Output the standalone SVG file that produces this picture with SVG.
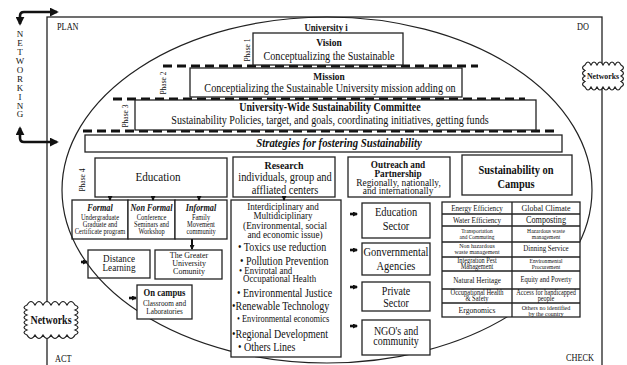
<svg xmlns="http://www.w3.org/2000/svg" width="627" height="365" viewBox="0 0 627 365">
<defs>
<style>
text{font-family:"Liberation Serif","Times New Roman",serif;fill:#111}
.c{text-anchor:middle;transform-box:fill-box;transform-origin:center;transform:scaleX(.87)}
.l{text-anchor:start;transform-box:fill-box;transform-origin:0% 50%;transform:scaleX(.87)}
.b{font-weight:bold}
.bi{font-weight:bold;font-style:italic}
.box{fill:#fff;stroke:#222;stroke-width:1.3}
.open{fill:none;stroke:#222;stroke-width:1.3}
.dash{fill:none;stroke:#111;stroke-width:3.2;stroke-dasharray:9 5}
.ln{fill:none;stroke:#222;stroke-width:1.3}
.conn{fill:none;stroke:#111;stroke-width:2}
.thick{fill:none;stroke:#111;stroke-width:2.6}
.ph{font-size:7.5px;text-anchor:middle}
.cloud{fill:#fff;stroke:#222;stroke-width:1.2}
.corner{font-size:9.5px}
.net{font-size:9px;text-anchor:middle}
</style>
<marker id="ah" viewBox="0 0 10 10" refX="8" refY="5" markerWidth="9" markerHeight="9" markerUnits="userSpaceOnUse" orient="auto-start-reverse"><path d="M0,0 L10,5 L0,10 z" fill="#111"/></marker>
<marker id="sh" viewBox="0 0 10 10" refX="8" refY="5" markerWidth="5" markerHeight="5" markerUnits="userSpaceOnUse" orient="auto"><path d="M0,0 L10,5 L0,10 z" fill="#111"/></marker>
</defs>
<rect x="0" y="0" width="627" height="365" fill="#fff"/>

<g id="university">
<ellipse cx="327" cy="190" rx="265" ry="173" fill="#fff" stroke="#222" stroke-width="1.2"/>
<text class="c b" x="326" y="31" font-size="10">University i</text>
</g>
<g id="frame">
<rect x="47" y="17" width="555" height="352" class="open"/>
<text class="l corner" x="57" y="30">PLAN</text>
<text class="l corner" x="577" y="30">DO</text>
<text class="l corner" x="55" y="362">ACT</text>
<text class="l corner" x="566" y="361">CHECK</text>
</g>

<g id="networking">
<text class="net" x="20" y="36.5">N</text>
<text class="net" x="20" y="45.5">E</text>
<text class="net" x="20" y="54.5">T</text>
<text class="net" x="20" y="63.5">W</text>
<text class="net" x="20" y="72.5">O</text>
<text class="net" x="20" y="82">R</text>
<text class="net" x="20" y="91">K</text>
<text class="net" x="20" y="100">I</text>
<text class="net" x="20" y="108.5">N</text>
<text class="net" x="20" y="117">G</text>
</g>

<g id="dashes">
<path class="dash" d="M163,66 H478"/>
<path class="dash" d="M113,99 H525"/>
<path class="dash" d="M83,131 H555"/>
</g>

<g id="vision">
<rect class="box" x="253" y="33" width="150" height="32"/>
<text class="c b" x="329" y="46.5" font-size="11">Vision</text>
<text class="c" x="329" y="60" font-size="11.7">Conceptualizing the Sustainable</text>
<text class="ph" transform="translate(250,50) rotate(-90)">Phase 1</text>
</g>

<g id="mission">
<rect class="box" x="190" y="68" width="272" height="29"/>
<text class="c b" x="329" y="80.5" font-size="10.8">Mission</text>
<text class="c" x="330" y="92.5" font-size="11.7">Conceptializing the Sustainable University mission adding on</text>
<text class="ph" transform="translate(166,83) rotate(-90)">Phase 2</text>
</g>

<g id="committee">
<rect class="box" x="135" y="100" width="401" height="30"/>
<text class="c b" x="330" y="111.5" font-size="11.5">University-Wide Sustainability Committee</text>
<text class="c" x="330" y="124.5" font-size="11.6">Sustainability Policies, target, and goals, coordinating initiatives, getting funds</text>
<text class="ph" transform="translate(128,116) rotate(-90)">Phase 3</text>
</g>

<g id="strategies">
<rect class="box" x="85" y="135" width="477" height="17"/>
<text class="c bi" x="339" y="147.5" font-size="12.4">Strategies for fostering Sustainability</text>
<text class="ph" font-size="8" transform="translate(85,180) rotate(-90)">Phase 4</text>
</g>

<g id="education">
<rect class="box" x="95" y="158" width="132" height="39"/>
<text class="c" x="158" y="181.5" font-size="12.8">Education</text>
</g>

<g id="formal">
<rect class="open" x="72" y="200" width="56" height="39"/>
<text class="c bi" x="100" y="211" font-size="9.4">Formal</text>
<text class="c" x="100" y="220.5" font-size="7.4">Undergraduate</text>
<text class="c" x="100" y="227.5" font-size="7.4">Graduate and</text>
<text class="c" x="100" y="234.5" font-size="7.4">Certificate program</text>
</g>
<g id="nonformal">
<rect class="box" x="128" y="200" width="47" height="39"/>
<text class="c bi" x="151.5" y="211" font-size="9.4">Non Formal</text>
<text class="c" x="151.5" y="220.5" font-size="7.4">Conference</text>
<text class="c" x="151.5" y="227.5" font-size="7.4">Seminars and</text>
<text class="c" x="151.5" y="234.5" font-size="7.4">Workshop</text>
</g>
<g id="informal">
<rect class="box" x="175" y="200" width="52" height="39"/>
<text class="c bi" x="201" y="211" font-size="9.4">Informal</text>
<text class="c" x="201" y="220.5" font-size="7.4">Family</text>
<text class="c" x="201" y="227.5" font-size="7.4">Movement</text>
<text class="c" x="201" y="234.5" font-size="7.4">community</text>
</g>

<g id="distance">
<rect class="open" x="88" y="250" width="62" height="28"/>
<text class="c" x="119" y="262.5" font-size="10.5">Distance</text>
<text class="c" x="119" y="271.5" font-size="10.5">Learning</text>
</g>
<g id="greater">
<rect class="box" x="155" y="250" width="67" height="29"/>
<text class="c" x="189" y="258.5" font-size="9.2">The Greater</text>
<text class="c" x="189" y="266.5" font-size="9.2">University</text>
<text class="c" x="189" y="274.5" font-size="9.2">Comunity</text>
</g>
<g id="oncampus">
<rect class="box" x="137" y="285" width="55" height="34"/>
<text class="c b" x="164.5" y="296" font-size="9.9">On campus</text>
<text class="c" x="164.5" y="306" font-size="8.3">Classroom and</text>
<text class="c" x="164.5" y="314" font-size="8.3">Laboratories</text>
</g>

<g id="research">
<rect class="box" x="233" y="157" width="102" height="40"/>
<text class="c b" x="284" y="169.5" font-size="11.4">Research</text>
<text class="c" x="285" y="181.5" font-size="12">individuals, group and</text>
<text class="c" x="285" y="194.5" font-size="12">affliated centers</text>
</g>

<g id="research-lines">
<rect class="box" x="231" y="200" width="110" height="157"/>
<text class="c" x="283" y="210.5" font-size="10.4">Interdiciplinary and</text>
<text class="c" x="283" y="219" font-size="10.4">Multidiciplinary</text>
<text class="c" x="285" y="229.5" font-size="10.6">(Environmental, social</text>
<text class="c" x="285" y="238.5" font-size="10.6">and economic issue)</text>
<text class="l" x="238" y="251" font-size="11.5">• Toxics use reduction</text>
<text class="l" x="240" y="265.5" font-size="11.5">• Pollution Prevention</text>
<text class="l" x="239" y="274" font-size="10.2">• Envirotal and</text>
<text class="l" x="243" y="282" font-size="10.2">Occupational Health</text>
<text class="l" x="237" y="297" font-size="11.5">• Environmental Justice</text>
<text class="l" x="232" y="310" font-size="11.5">•Renewable Technology</text>
<text class="l" x="237" y="322.5" font-size="9.6">• Environmental economics</text>
<text class="l" x="232" y="338.5" font-size="11.5">•Regional Development</text>
<text class="l" x="238" y="351.5" font-size="11.5">• Others Lines</text>
</g>

<g id="outreach">
<rect class="box" x="348" y="157" width="102" height="40"/>
<text class="c b" x="398" y="168" font-size="10.6">Outreach and</text>
<text class="c b" x="398" y="177" font-size="10.6">Partnership</text>
<text class="c" x="398.5" y="186" font-size="10.8">Regionally, nationally,</text>
<text class="c" x="398" y="194.5" font-size="10.8">and internationally</text>
</g>

<g id="edu-sector">
<rect class="box" x="362" y="203" width="68" height="35"/>
<text class="c" x="396" y="216" font-size="12">Education</text>
<text class="c" x="396" y="230" font-size="12">Sector</text>
</g>
<g id="gov">
<rect class="box" x="362" y="243" width="68" height="32"/>
<text class="c" x="396" y="256.5" font-size="12">Gonvernmental</text>
<text class="c" x="396" y="270.5" font-size="12">Agencies</text>
</g>
<g id="private">
<rect class="box" x="362" y="282" width="68" height="29"/>
<text class="c" x="396" y="295.5" font-size="11.5">Private</text>
<text class="c" x="396" y="307.5" font-size="11.5">Sector</text>
</g>
<g id="ngo">
<rect class="box" x="362" y="320" width="68" height="35"/>
<text class="c" x="396" y="335" font-size="11.5">NGO's and</text>
<text class="c" x="396" y="345.5" font-size="11.5">community</text>
</g>

<g id="campus">
<rect class="box" x="462" y="155" width="110" height="40"/>
<text class="c b" x="516" y="174" font-size="12">Sustainability on</text>
<text class="c b" x="516" y="188" font-size="12">Campus</text>
</g>

<g id="campus-table">
<rect class="box" x="442" y="202" width="138" height="115"/>
<path class="ln" d="M512,202 V317 M442,214 H580 M442,226 H580 M442,242 H580 M442,257 H580 M442,271 H580 M442,289 H580 M442,303 H580"/>
<text class="c" x="477" y="211" font-size="8.2">Energy Efficiency</text>
<text class="c" x="477" y="223" font-size="8.2">Water Efficiency</text>
<text class="c" x="477" y="233.5" font-size="6.2">Transportation</text>
<text class="c" x="477" y="239.5" font-size="6.2">and Commuting</text>
<text class="c" x="477" y="248.5" font-size="6.8">Non hazardous</text>
<text class="c" x="477" y="254.5" font-size="6.8">waste management</text>
<text class="c" x="477" y="263" font-size="7.2">Integration Pest</text>
<text class="c" x="477" y="269.5" font-size="7.2">Management</text>
<text class="c" x="477" y="283" font-size="8.2">Natural Heritage</text>
<text class="c" x="477" y="295" font-size="7.4">Occupational Health</text>
<text class="c" x="477" y="301.5" font-size="7.4">&amp; Safety</text>
<text class="c" x="477" y="313" font-size="8.8">Ergonomics</text>
<text class="c" x="546" y="211.5" font-size="9.2">Global Climate</text>
<text class="c" x="546" y="223.5" font-size="9.4">Composting</text>
<text class="c" x="546" y="233.5" font-size="6.4">Hazardous waste</text>
<text class="c" x="546" y="239.5" font-size="6.4">management</text>
<text class="c" x="546" y="251.5" font-size="8">Dinning Service</text>
<text class="c" x="546" y="263" font-size="6.4">Environmental</text>
<text class="c" x="546" y="269" font-size="6.4">Procurement</text>
<text class="c" x="546" y="282.5" font-size="7.6">Equity and Poverty</text>
<text class="c" x="546" y="295" font-size="7.2">Access for handicapped</text>
<text class="c" x="546" y="301.5" font-size="7.2">people</text>
<text class="c" x="546" y="310" font-size="7">Others no identified</text>
<text class="c" x="546" y="316" font-size="7">by the country</text>
</g>

<g id="connectors">
<path class="thick" d="M20,24 V16 Q20,12 24,12 H57" marker-start="url(#ah)" marker-end="url(#ah)"/>
<path class="thick" d="M20,128 V138 Q20,142 24,142 H57" marker-start="url(#ah)" marker-end="url(#ah)"/>
<path class="conn" d="M110,196 V200" marker-end="url(#sh)"/>
<path class="conn" d="M153,196 V200" marker-end="url(#sh)"/>
<path class="conn" d="M199,196 V200" marker-end="url(#sh)"/>
<path class="conn" d="M192,239 V249" marker-end="url(#sh)"/>
<path class="conn" d="M284,196 V200" marker-end="url(#sh)"/>
<path class="thick" d="M81,262 H87" marker-end="url(#sh)"/>
<path class="thick" d="M129,298 H136" marker-end="url(#sh)"/>
<path class="thick" d="M350,214 H357" marker-end="url(#sh)"/>
<path class="thick" d="M350,250 H357" marker-end="url(#sh)"/>
<path class="thick" d="M350,287 H357" marker-end="url(#sh)"/>
<path class="thick" d="M350,326 H357" marker-end="url(#sh)"/>
</g>

<g id="networks-left">
<path class="cloud" d="M27,305 q4,-7 8,0 q4,-7 8,0 q4,-7 8,0 q4,-7 8,0 q4,-7 8,0 q4,-7 8,0 q6,2.5 0,5 q6,2.5 0,5 q6,2.5 0,5 q6,2.5 0,5 q6,2.5 0,5 q6,2.5 0,5 q-4,7 -8,0 q-4,7 -8,0 q-4,7 -8,0 q-4,7 -8,0 q-4,7 -8,0 q-4,7 -8,0 q-6,-2.5 0,-5 q-6,-2.5 0,-5 q-6,-2.5 0,-5 q-6,-2.5 0,-5 q-6,-2.5 0,-5 q-6,-2.5 0,-5 z"/>
<text class="c b" x="51" y="324" font-size="11.5">Networks</text>
</g>
<g id="networks-right">
<path class="cloud" d="M585,65 q3,-6 6,0 q3,-6 6,0 q3,-6 6,0 q3,-6 6,0 q3,-6 6,0 q3,-6 6,0 q5,2.75 0,5.5 q5,2.75 0,5.5 q5,2.75 0,5.5 q5,2.75 0,5.5 q-3,6 -6,0 q-3,6 -6,0 q-3,6 -6,0 q-3,6 -6,0 q-3,6 -6,0 q-3,6 -6,0 q-5,-2.75 0,-5.5 q-5,-2.75 0,-5.5 q-5,-2.75 0,-5.5 q-5,-2.75 0,-5.5 z"/>
<text class="c b" x="603" y="79" font-size="9">Networks</text>
</g>
</svg>
